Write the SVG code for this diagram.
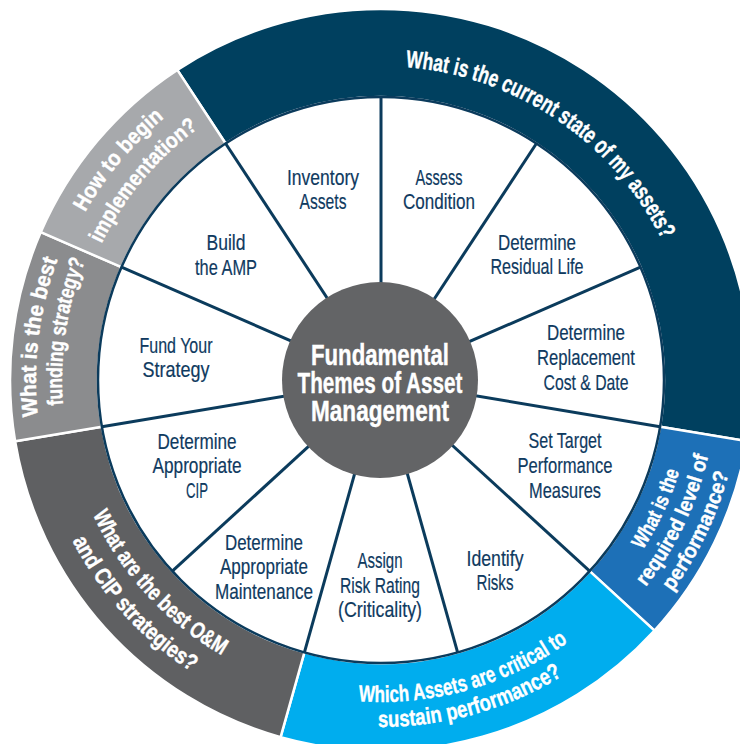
<svg xmlns="http://www.w3.org/2000/svg" width="740" height="744" viewBox="0 0 740 744">
<style>
.seg{stroke:#fff;stroke-width:2.5}
.div{stroke:#0B3B5C;stroke-width:3;fill:none}
.w{font-family:"Liberation Sans Narrow","Liberation Sans",Arial,sans-serif;font-size:22px;fill:#0F3A5F;text-anchor:middle;stroke:#0F3A5F;stroke-width:0.2}
.r{font-family:"Liberation Sans Narrow","Liberation Sans",Arial,sans-serif;font-weight:bold;fill:#fff;stroke:#fff;stroke-width:0.4}
.c{font-family:"Liberation Sans Narrow","Liberation Sans",Arial,sans-serif;font-weight:bold;font-size:29px;fill:#fff;text-anchor:middle;stroke:#fff;stroke-width:0.4}
</style>
<defs>
<path id="pTop" d="M 405.6 67 A 314 314 0 0 1 662 239.9"/>
<path id="pHow1" d="M 85.1 212.6 A 340 340 0 0 1 164.7 117.7"/>
<path id="pHow2" d="M 101.5 243.7 A 311 311 0 0 1 198.2 128.4"/>
<path id="pFund1" d="M 37.9 416.1 A 345 345 0 0 1 57.8 259.2"/>
<path id="pFund2" d="M 63 405 A 319 319 0 0 1 85.2 260.5"/>
<path id="pOM1" d="M 92.8 514.4 A 318 318 0 0 0 222 655.4"/>
<path id="pOM2" d="M 72.3 540.7 A 348 348 0 0 0 191.5 671.9"/>
<path id="pCr1" d="M 358.5 701.2 A 322 322 0 0 0 568 642.1"/>
<path id="pCr2" d="M 378 727 A 347 347 0 0 0 562.3 675.9"/>
<path id="pReq1" d="M 642.7 549.9 A 312 312 0 0 0 679.4 471.2"/>
<path id="pReq2" d="M 645.8 586.9 A 336 336 0 0 0 708.4 455.6"/>
<path id="pReq3" d="M 672.2 591.6 A 360 360 0 0 0 728.7 473.2"/>
</defs>

<g id="ring-current-state">
<path class="seg" fill="#00405F" d="M 177.3 69.9 A 371 371 0 0 1 746.9 441.2 L 660.1 426.7 A 283 283 0 0 0 225.6 143.5 Z"/>
</g>
<g id="ring-required-level">
<path class="seg" fill="#1D70B7" d="M 746.9 441.2 A 371 371 0 0 1 654.5 630.6 L 589.7 571.2 A 283 283 0 0 0 660.1 426.7 Z"/>
</g>
<g id="ring-critical">
<path class="seg" fill="#00ADEE" d="M 654.5 630.6 A 371 371 0 0 1 280.6 737.2 L 304.4 652.4 A 283 283 0 0 0 589.7 571.2 Z"/>
</g>
<g id="ring-om-cip">
<path class="seg" fill="#5F6062" d="M 280.6 737.2 A 371 371 0 0 1 15.1 441.2 L 101.9 426.7 A 283 283 0 0 0 304.4 652.4 Z"/>
</g>
<g id="ring-funding">
<path class="seg" fill="#8B8C8E" d="M 15.1 441.2 A 371 371 0 0 1 40.8 232.1 L 121.5 267.2 A 283 283 0 0 0 101.9 426.7 Z"/>
</g>
<g id="ring-implementation">
<path class="seg" fill="#A7A9AC" d="M 40.8 232.1 A 371 371 0 0 1 177.3 69.9 L 225.6 143.5 A 283 283 0 0 0 121.5 267.2 Z"/>
</g>

<circle id="inner-disc" cx="381" cy="380" r="283" fill="#fff" stroke="#0B3B5C" stroke-width="2.5"/>

<g id="connectors">
<line class="div" x1="381" y1="380" x2="381" y2="97"/>
<line class="div" x1="381" y1="380" x2="536.4" y2="143.5"/>
<line class="div" x1="381" y1="380" x2="640.5" y2="267.2"/>
<line class="div" x1="381" y1="380" x2="660.1" y2="426.7"/>
<line class="div" x1="381" y1="380" x2="589.7" y2="571.2"/>
<line class="div" x1="381" y1="380" x2="457.6" y2="652.4"/>
<line class="div" x1="381" y1="380" x2="304.4" y2="652.4"/>
<line class="div" x1="381" y1="380" x2="172.3" y2="571.2"/>
<line class="div" x1="381" y1="380" x2="101.9" y2="426.7"/>
<line class="div" x1="381" y1="380" x2="121.5" y2="267.2"/>
<line class="div" x1="381" y1="380" x2="225.6" y2="143.5"/>
</g>

<g id="ring-labels">
<text class="r" font-size="24"><textPath href="#pTop" textLength="323" lengthAdjust="spacingAndGlyphs">What is the current state of my assets?</textPath></text>
<text class="r" font-size="22"><textPath href="#pHow1" textLength="124" lengthAdjust="spacingAndGlyphs">How to begin</textPath></text>
<text class="r" font-size="22"><textPath href="#pHow2" textLength="152" lengthAdjust="spacingAndGlyphs">implementation?</textPath></text>
<text class="r" font-size="22"><textPath href="#pFund1" textLength="159" lengthAdjust="spacingAndGlyphs">What is the best</textPath></text>
<text class="r" font-size="22"><textPath href="#pFund2" textLength="147" lengthAdjust="spacingAndGlyphs">funding strategy?</textPath></text>
<text class="r" font-size="23"><textPath href="#pOM1" textLength="194" lengthAdjust="spacingAndGlyphs">What are the best O&amp;M</textPath></text>
<text class="r" font-size="23"><textPath href="#pOM2" textLength="179" lengthAdjust="spacingAndGlyphs">and CIP strategies?</textPath></text>
<text class="r" font-size="23"><textPath href="#pCr1" textLength="222" lengthAdjust="spacingAndGlyphs">Which Assets are critical to</textPath></text>
<text class="r" font-size="23"><textPath href="#pCr2" textLength="194" lengthAdjust="spacingAndGlyphs">sustain performance?</textPath></text>
<text class="r" font-size="21"><textPath href="#pReq1" textLength="87" lengthAdjust="spacingAndGlyphs">What is the</textPath></text>
<text class="r" font-size="21"><textPath href="#pReq2" textLength="146" lengthAdjust="spacingAndGlyphs">required level of</textPath></text>
<text class="r" font-size="21"><textPath href="#pReq3" textLength="132" lengthAdjust="spacingAndGlyphs">performance?</textPath></text>
</g>

<g id="wedge-inventory">
<text class="w" x="323" y="185" textLength="72" lengthAdjust="spacingAndGlyphs">Inventory</text>
<text class="w" x="323" y="209" textLength="47" lengthAdjust="spacingAndGlyphs">Assets</text>
</g>
<g id="wedge-assess">
<text class="w" x="439" y="185" textLength="47" lengthAdjust="spacingAndGlyphs">Assess</text>
<text class="w" x="439" y="209" textLength="72" lengthAdjust="spacingAndGlyphs">Condition</text>
</g>
<g id="wedge-residual">
<text class="w" x="537" y="250" textLength="78" lengthAdjust="spacingAndGlyphs">Determine</text>
<text class="w" x="537" y="274" textLength="93" lengthAdjust="spacingAndGlyphs">Residual Life</text>
</g>
<g id="wedge-replacement">
<text class="w" x="586" y="340" textLength="78" lengthAdjust="spacingAndGlyphs">Determine</text>
<text class="w" x="586" y="365" textLength="98" lengthAdjust="spacingAndGlyphs">Replacement</text>
<text class="w" x="586" y="390" textLength="85" lengthAdjust="spacingAndGlyphs">Cost &amp; Date</text>
</g>
<g id="wedge-target">
<text class="w" x="565" y="448" textLength="73" lengthAdjust="spacingAndGlyphs">Set Target</text>
<text class="w" x="565" y="473" textLength="95" lengthAdjust="spacingAndGlyphs">Performance</text>
<text class="w" x="565" y="498" textLength="72" lengthAdjust="spacingAndGlyphs">Measures</text>
</g>
<g id="wedge-risks">
<text class="w" x="495" y="566" textLength="57" lengthAdjust="spacingAndGlyphs">Identify</text>
<text class="w" x="495" y="590" textLength="37" lengthAdjust="spacingAndGlyphs">Risks</text>
</g>
<g id="wedge-rating">
<text class="w" x="380" y="568" textLength="45" lengthAdjust="spacingAndGlyphs">Assign</text>
<text class="w" x="380" y="593" textLength="80" lengthAdjust="spacingAndGlyphs">Risk Rating</text>
<text class="w" x="380" y="617" textLength="84" lengthAdjust="spacingAndGlyphs">(Criticality)</text>
</g>
<g id="wedge-maintenance">
<text class="w" x="264" y="550" textLength="78" lengthAdjust="spacingAndGlyphs">Determine</text>
<text class="w" x="264" y="574" textLength="88" lengthAdjust="spacingAndGlyphs">Appropriate</text>
<text class="w" x="264" y="599" textLength="98" lengthAdjust="spacingAndGlyphs">Maintenance</text>
</g>
<g id="wedge-cip">
<text class="w" x="197" y="449" textLength="79" lengthAdjust="spacingAndGlyphs">Determine</text>
<text class="w" x="197" y="473" textLength="89" lengthAdjust="spacingAndGlyphs">Appropriate</text>
<text class="w" x="197" y="498" textLength="22" lengthAdjust="spacingAndGlyphs">CIP</text>
</g>
<g id="wedge-fund">
<text class="w" x="176" y="353" textLength="73" lengthAdjust="spacingAndGlyphs">Fund Your</text>
<text class="w" x="176" y="377" textLength="67" lengthAdjust="spacingAndGlyphs">Strategy</text>
</g>
<g id="wedge-build">
<text class="w" x="226" y="250" textLength="39" lengthAdjust="spacingAndGlyphs">Build</text>
<text class="w" x="226" y="275" textLength="62" lengthAdjust="spacingAndGlyphs">the AMP</text>
</g>

<g id="center">
<circle cx="380" cy="380" r="98" fill="#636466"/>
<text class="c" x="380" y="365" textLength="138" lengthAdjust="spacingAndGlyphs">Fundamental</text>
<text class="c" x="380" y="393" textLength="165" lengthAdjust="spacingAndGlyphs">Themes of Asset</text>
<text class="c" x="380" y="421" textLength="138" lengthAdjust="spacingAndGlyphs">Management</text>
</g>
</svg>
